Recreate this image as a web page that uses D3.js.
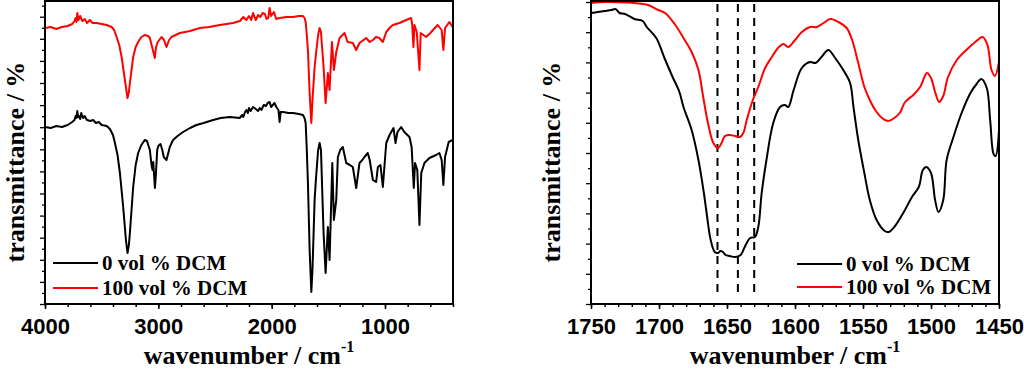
<!DOCTYPE html>
<html><head><meta charset="utf-8">
<script src="https://cdn.jsdelivr.net/npm/d3@7"></script>
<style>body{margin:0;background:#fff} svg{display:block}</style>
</head><body><svg id="c" width="1024" height="369"></svg>
<script>
// ---------- DATA (wavenumber cm^-1, transmittance a.u.) ----------
const fullBlack = [[4000,177],[3950,176],[3900,178],[3850,177],[3800,179],[3760,182],[3740,184],[3730,188],[3722,186],[3715,193],[3708,187],[3700,188],[3690,185],[3680,191],[3665,186],[3650,188],[3630,184],[3600,183],[3575,184],[3550,181],[3525,182],[3500,179],[3455,178],[3427,175],[3400,169],[3383,161],[3360,149],[3339,131],[3310,97],[3286,64],[3272,51],[3260,59],[3251,71],[3222,117],[3200,139],[3178,151],[3150,159],[3120,164],[3100,163],[3075,154],[3060,139],[3051,134],[3045,142],[3030,116],[3022,129],[3010,154],[3000,158],[2981,160],[2965,154],[2952,147],[2928,144],[2910,152],[2899,157],[2870,164],[2830,168],[2782,172],[2720,176],[2664,179],[2600,181],[2517,184],[2450,186],[2370,187],[2282,186],[2260,189],[2250,187],[2235,192],[2223,194],[2210,191],[2200,196],[2185,193],[2165,197],[2140,195],[2120,193],[2105,196],[2091,194],[2070,199],[2050,198],[2035,201],[2018,202],[2005,197],[1990,199],[1975,201],[1959,197],[1940,194],[1930,182],[1920,192],[1900,192],[1850,191],[1812,191],[1760,190],[1724,189],[1710,186],[1700,181],[1690,154],[1680,121],[1665,54],[1650,12],[1640,34],[1621,104],[1610,124],[1590,154],[1577,161],[1565,154],[1542,71],[1524,31],[1504,77],[1489,44],[1465,141],[1451,84],[1430,104],[1416,147],[1395,154],[1372,157],[1342,141],[1310,139],[1284,137],[1254,116],[1225,141],[1200,144],[1181,147],[1152,151],[1135,144],[1107,124],[1078,122],[1063,137],[1040,139],[1019,117],[989,161],[960,169],[945,172],[925,176],[907,161],[890,172],[857,177],[830,172],[784,167],[765,157],[746,116],[735,141],[715,134],[696,79],[680,131],[652,141],[608,146],[549,149],[520,151],[500,144],[485,119],[470,147],[438,162],[402,164]];
const fullRed = [[4000,276],[3950,277],[3900,275],[3850,277],[3800,278],[3760,280],[3740,283],[3730,286],[3722,282],[3715,291],[3705,284],[3690,288],[3670,283],[3650,285],[3630,281],[3604,284],[3580,281],[3545,281],[3500,280],[3456,279],[3412,277],[3390,274],[3368,267],[3345,259],[3324,247],[3295,224],[3272,206],[3260,212],[3251,221],[3222,247],[3200,257],[3178,262],[3150,267],[3119,269],[3090,268],[3075,266],[3055,257],[3031,246],[3020,257],[3005,262],[2972,267],[2950,264],[2928,257],[2905,264],[2884,267],[2811,271],[2720,273],[2634,276],[2550,277],[2458,279],[2400,280],[2341,281],[2280,283],[2250,287],[2223,284],[2200,288],[2180,284],[2165,291],[2140,284],[2120,289],[2100,287],[2080,291],[2060,290],[2045,285],[2030,286],[2018,296],[2005,288],[1980,292],[1960,285],[1930,286],[1870,287],[1812,287],[1760,288],[1724,288],[1710,286],[1700,282],[1690,269],[1680,254],[1665,211],[1650,181],[1640,204],[1621,237],[1610,249],[1590,269],[1577,276],[1565,272],[1542,237],[1524,201],[1504,231],[1489,214],[1468,262],[1451,234],[1430,252],[1401,266],[1357,271],[1330,262],[1284,261],[1254,254],[1225,261],[1166,266],[1135,262],[1107,264],[1080,267],[1050,266],[1019,262],[989,272],[960,276],[931,279],[872,281],[813,284],[769,286],[760,279],[749,257],[740,279],[720,272],[696,234],[685,271],[637,267],[600,271],[560,276],[535,279],[500,274],[485,254],[470,276],[432,282],[402,277]];
const zoomBlack = [[1750,291],[1745,292],[1740,293],[1735,294],[1732,295],[1729,291],[1725,290],[1718,285],[1712,283],[1709,277],[1702,266],[1696,246],[1690,227],[1685,212],[1682,197],[1676,174],[1671,144],[1667,111],[1665,91],[1662,64],[1659,52],[1656.5,51],[1655,53],[1653,52],[1651,49],[1648,48],[1644,47],[1640,49],[1637,57],[1633,66],[1629.5,67],[1627,77],[1624.5,111],[1621,144],[1616,181],[1611,197],[1607.5,199],[1605,197],[1601,214],[1595,236],[1589,242],[1585,241],[1580.5,247],[1575.5,254],[1570.5,246],[1564.5,234],[1559.5,221],[1557,197],[1553.5,164],[1549,131],[1545,104],[1540,84],[1534,73],[1531,72],[1527,77],[1520,92],[1514,107],[1509,117],[1506,134],[1503.5,137],[1500,131],[1497,104],[1494.5,92],[1491,104],[1488.5,144],[1483.5,167],[1477.5,191],[1471,211],[1466.5,220],[1463,225],[1459,216],[1456.5,184],[1454,150],[1452.5,148],[1450,174]];
const zoomRed = [[1750,301],[1740,302],[1735,302],[1725,301.5],[1718,301],[1712,300],[1708,299],[1700.5,294],[1695.5,291],[1688,279],[1682,266],[1676,252],[1671,234],[1667.5,207],[1664,181],[1660,161],[1656.5,156],[1654,161],[1651.5,168],[1648,169],[1644,168],[1640.5,167],[1638,171],[1635.5,184],[1631,204],[1627,217],[1622,236],[1617,247],[1612.5,256],[1608.5,260],[1605,257],[1600,264],[1595,272],[1589,277],[1584,277],[1579,281],[1574,285],[1568,282],[1562,276],[1558,264],[1553.5,241],[1549,217],[1545,204],[1541,194],[1536,186],[1531.5,183],[1527,186],[1523,191],[1519,202],[1513,209],[1508,217],[1503,231],[1500,226],[1497,212],[1494,202],[1491,208],[1487.5,227],[1481,244],[1474,254],[1467.5,262],[1462,267],[1458.5,259],[1455.5,234],[1453,228],[1450,242]];
const fullTicks = [4000,3000,2000,1000];
const zoomTicks = [1750,1700,1650,1600,1550,1500,1450];
const dashedLines = [1657,1642,1630];
const seriesNames = ["0 vol % DCM","100 vol % DCM"];
const seriesColors = ["#000000","#ff0000"];
const yLabel = "transmittance / %";
const xLabel = "wavenumber / cm";
const xLabelSup = "-1";

// ---------- DRAW ----------
const svg = d3.select("#c");
const yTop = 1, yBottom = 304;
const serif = "'Liberation Serif','Times New Roman',serif";
const sans = "'Liberation Sans',Arial,sans-serif";

function panel(o){
  const x = d3.scaleLinear().domain(o.xDomain).range([o.left, o.right]);
  const y = d3.scaleLinear().domain([0,303]).range([yBottom, yTop]);
  const g = svg.append("g");
  const cid = "clip"+o.id;
  svg.append("clipPath").attr("id",cid).append("rect")
    .attr("x",o.left).attr("y",yTop).attr("width",o.right-o.left).attr("height",yBottom-yTop);

  g.append("g").attr("transform",`translate(0,${yBottom})`)
    .call(d3.axisBottom(x).tickValues(o.xMinor).tickSize(3).tickFormat(""))
    .call(s=>s.select(".domain").remove())
    .call(s=>s.selectAll("line").attr("stroke-width",1.5));
  g.append("g").attr("transform",`translate(0,${yBottom})`)
    .call(d3.axisBottom(x).tickValues(o.xTicks).tickSize(5).tickPadding(9).tickFormat(d3.format("d")))
    .call(s=>s.select(".domain").remove())
    .call(s=>s.selectAll("line").attr("stroke-width",1.5))
    .call(s=>s.selectAll("text").attr("font-family",sans).attr("font-weight","bold").attr("font-size",22).attr("fill","#000"));
  g.append("g").attr("transform",`translate(${o.left},0)`)
    .call(d3.axisLeft(y).tickValues(o.yMinor).tickSize(3).tickFormat(""))
    .call(s=>s.select(".domain").remove())
    .call(s=>s.selectAll("line").attr("stroke-width",1.3));
  g.append("g").attr("transform",`translate(${o.left},0)`)
    .call(d3.axisLeft(y).tickValues(o.yMajor).tickSize(5).tickFormat(""))
    .call(s=>s.select(".domain").remove())
    .call(s=>s.selectAll("line").attr("stroke-width",1.3));

  g.selectAll("line.dash").data(o.dashed||[]).enter().append("line").attr("class","dash")
    .attr("x1",d=>x(d)).attr("x2",d=>x(d)).attr("y1",4).attr("y2",293)
    .attr("stroke","#000").attr("stroke-width",2).attr("stroke-dasharray","8,6");

  const line = d3.line().x(d=>x(d[0])).y(d=>y(d[1])).curve(o.curve);
  const cg = g.append("g").attr("clip-path",`url(#${cid})`);
  o.series.forEach((s,i)=>{
    cg.append("path").datum(s).attr("d",line).attr("fill","none")
      .attr("stroke",seriesColors[i]).attr("stroke-width",2).attr("stroke-linejoin","round");
  });

  g.append("rect").attr("x",o.left).attr("y",yTop).attr("width",o.right-o.left).attr("height",yBottom-yTop)
    .attr("fill","none").attr("stroke","#000").attr("stroke-width",2);

  seriesNames.forEach((n,i)=>{
    const ly = o.legY[i];
    g.append("line").attr("x1",o.legX).attr("x2",o.legX+45).attr("y1",ly).attr("y2",ly)
      .attr("stroke",seriesColors[i]).attr("stroke-width",2);
    g.append("text").attr("x",o.legX+49).attr("y",ly+7).text(n)
      .attr("font-family",serif).attr("font-weight","bold").attr("font-size",21).attr("fill","#000");
  });

  g.append("text").attr("transform",`translate(${o.left-o.yLabOff},162) rotate(-90)`)
    .attr("text-anchor","middle").attr("font-family",serif).attr("font-weight","bold").attr("font-size",26)
    .text(yLabel);
  const xl = g.append("text").attr("x",(o.left+o.right)/2).attr("y",364).attr("text-anchor","middle")
    .attr("font-family",serif).attr("font-weight","bold").attr("font-size",26);
  xl.append("tspan").text(xLabel);
  xl.append("tspan").attr("dy",-12).attr("font-size",16).text(xLabelSup);
}

panel({id:"a", left:45, right:453, xDomain:[4000,400], series:[fullBlack, fullRed],
  xTicks:fullTicks, xMinor:d3.range(4000,399,-200),
  yMajor:d3.range(0,304,22.1), yMinor:d3.range(11.05,304,22.1),
  legX:53, legY:[263,288], yLabOff:21, curve:d3.curveLinear});
panel({id:"b", left:591, right:999, xDomain:[1750,1450], series:[zoomBlack, zoomRed],
  xTicks:zoomTicks, xMinor:d3.range(1750,1449,-10),
  yMajor:d3.range(0,304,30.2), yMinor:d3.range(15.1,304,30.2),
  legX:797, legY:[264,287], yLabOff:31, dashed:dashedLines, curve:d3.curveCatmullRom});
</script></body></html>
